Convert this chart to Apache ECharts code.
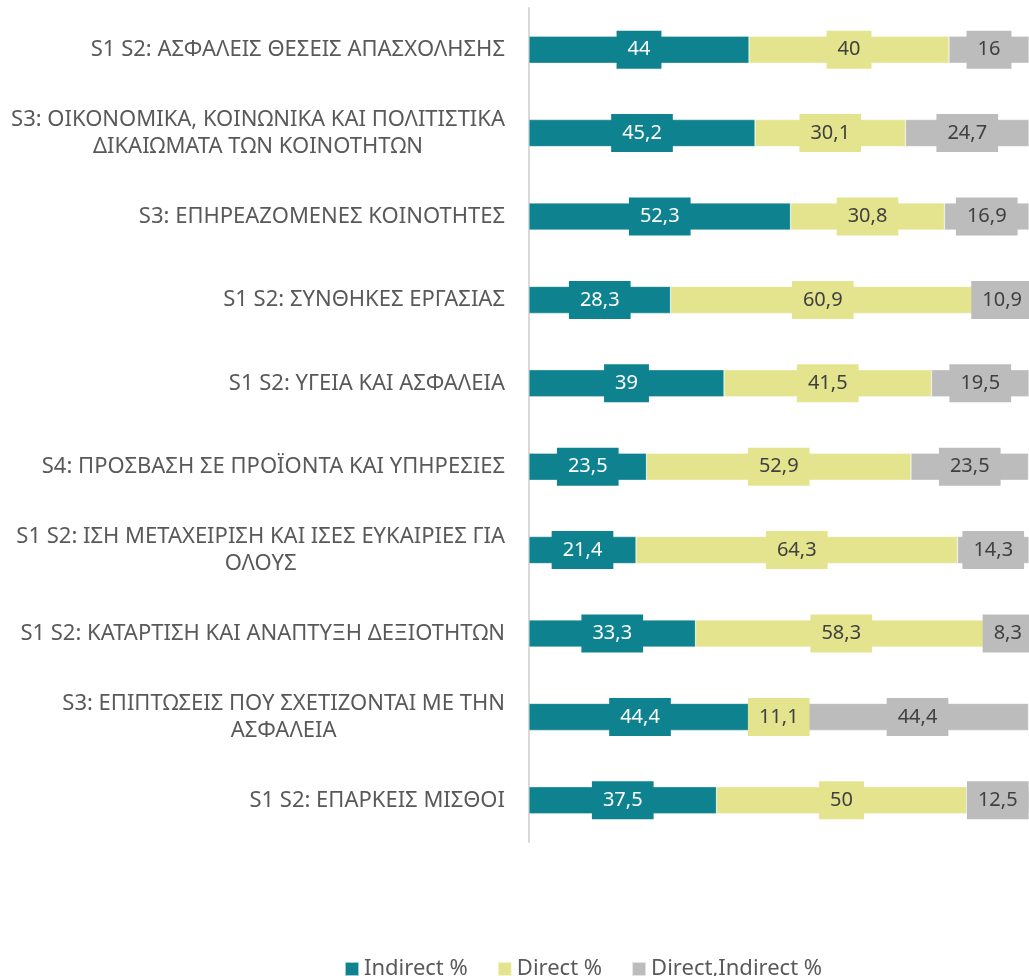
<!DOCTYPE html>
<html>
<head>
<meta charset="utf-8">
<script src="https://cdn.jsdelivr.net/npm/echarts@6/dist/echarts.min.js"></script>
<style>
html, body { margin: 0; padding: 0; background: #fff; }
#chartDiv { width: 1029px; height: 976px; }
</style>
</head>
<body>
<div id="chartDiv"></div>
<script>
//类别
var categories = [
	'S1 S2: ΑΣΦΑΛΕΙΣ ΘΕΣΕΙΣ ΑΠΑΣΧΟΛΗΣΗΣ',
	'S3: ΟΙΚΟΝΟΜΙΚΑ, ΚΟΙΝΩΝΙΚΑ ΚΑΙ ΠΟΛΙΤΙΣΤΙΚΑ\nΔΙΚΑΙΩΜΑΤΑ ΤΩΝ ΚΟΙΝΟΤΗΤΩΝ',
	'S3: ΕΠΗΡΕΑΖΟΜΕΝΕΣ ΚΟΙΝΟΤΗΤΕΣ',
	'S1 S2: ΣΥΝΘΗΚΕΣ ΕΡΓΑΣΙΑΣ',
	'S1 S2: ΥΓΕΙΑ ΚΑΙ ΑΣΦΑΛΕΙΑ',
	'S4: ΠΡΟΣΒΑΣΗ ΣΕ ΠΡΟΪΟΝΤΑ ΚΑΙ ΥΠΗΡΕΣΙΕΣ',
	'S1 S2: ΙΣΗ ΜΕΤΑΧΕΙΡΙΣΗ ΚΑΙ ΙΣΕΣ ΕΥΚΑΙΡΙΕΣ ΓΙΑ\nΟΛΟΥΣ',
	'S1 S2: ΚΑΤΑΡΤΙΣΗ ΚΑΙ ΑΝΑΠΤΥΞΗ ΔΕΞΙΟΤΗΤΩΝ',
	'S3: ΕΠΙΠΤΩΣΕΙΣ ΠΟΥ ΣΧΕΤΙΖΟΝΤΑΙ ΜΕ ΤΗΝ\nΑΣΦΑΛΕΙΑ',
	'S1 S2: ΕΠΑΡΚΕΙΣ ΜΙΣΘΟΙ'
];

//系列数据
var indirectData = [44, 45.2, 52.3, 28.3, 39, 23.5, 21.4, 33.3, 44.4, 37.5];
var directData = [40, 30.1, 30.8, 60.9, 41.5, 52.9, 64.3, 58.3, 11.1, 50];
var bothData = [16, 24.7, 16.9, 10.9, 19.5, 23.5, 14.3, 8.3, 44.4, 12.5];

var seriesNames = ['Indirect %', 'Direct %', 'Direct,Indirect %'];
var seriesColors = ['#0e838f', '#e4e48e', '#bbbcbb'];
var labelColors = ['#ffffff', '#404040', '#404040'];

var FONT = 'Noto Sans';

function makeSeries(idx, data)
{
	return {
		name: seriesNames[idx],
		type: 'bar',
		stack: 'total',
		barWidth: 27,
		data: data,
		itemStyle: {
			color: seriesColors[idx],
			borderColor: 'rgba(255,255,255,0.6)',
			borderWidth: 0.5
		},
		label: {
			show: true,
			position: 'inside',
			color: labelColors[idx],
			fontSize: 20,
			fontFamily: FONT,
			lineHeight: 22,
			backgroundColor: seriesColors[idx],
			padding: [8, 11, 8, 11],
			formatter: function(p) {
				return String(p.value).replace('.', ',');
			}
		}
	};
}

var chart = echarts.init(document.getElementById('chartDiv'));
var option = {
	animation: false,
	grid: {
		left: 529,
		right: 0,
		top: 8,
		bottom: 134
	},
	legend: {
		data: seriesNames,
		top: 953,
		left: 339,
		itemWidth: 14,
		itemHeight: 14,
		itemGap: 29,
		icon: 'rect',
		textStyle: {
			fontSize: 22,
			color: '#595959',
			fontFamily: FONT
		}
	},
	xAxis: {
		type: 'value',
		min: 0,
		max: 100,
		show: false
	},
	yAxis: {
		type: 'category',
		inverse: true,
		data: categories,
		axisLine: { lineStyle: { color: '#d9d9d9', width: 2 } },
		axisTick: { show: false },
		axisLabel: {
			margin: 24,
			fontSize: 22,
			fontFamily: FONT,
			color: '#595959',
			lineHeight: 27,
			formatter: function(v) {
				return v.split('\n').map(function(s) { return '{c|' + s + '}'; }).join('\n');
			},
			rich: {
				c: { align: 'center', fontSize: 22, fontFamily: FONT, color: '#595959', lineHeight: 27 }
			}
		}
	},
	series: [
		makeSeries(0, indirectData),
		makeSeries(1, directData),
		makeSeries(2, bothData)
	]
};
chart.setOption(option);
</script>
</body>
</html>
